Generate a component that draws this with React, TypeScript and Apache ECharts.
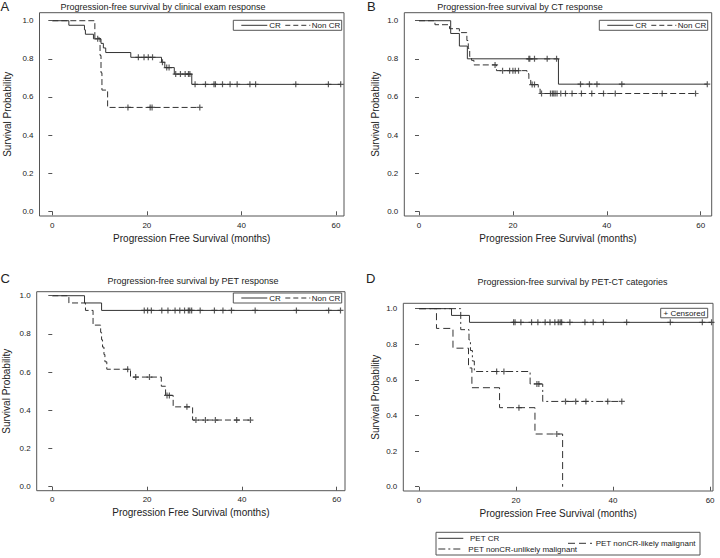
import React, { useEffect, useRef } from "react";
import * as echarts from "echarts";

const FONT = "'Liberation Sans', Arial, Helvetica, sans-serif";
const INK = "#333";

const xTicks = [0, 20, 40, 60];
const yTicks = [0, 0.2, 0.4, 0.6, 0.8, 1.0];

// ---- Panel A: clinical exam response ----
const aCrSteps: [number, number][] = [
  [3.5, 0.976], [6.8, 0.952], [7.0, 0.929], [8.7, 0.905], [10.3, 0.881], [10.8, 0.857],
  [11.3, 0.833], [16.6, 0.808], [23.1, 0.782], [23.8, 0.754], [25.8, 0.72], [29.5, 0.666],
];
const aCrCensor = [9.6, 18.2, 19.4, 20.3, 21.2, 23.3, 24.2, 24.7, 26.1, 27.1, 28.1, 28.8, 29.1,
  30.2, 32.4, 34.2, 34.5, 36.0, 37.6, 39.1, 41.8, 43.0, 51.5, 58.4, 61.0];
const aNonSteps: [number, number][] = [
  [9.0, 0.909], [10.1, 0.818], [10.3, 0.727], [10.5, 0.636], [11.7, 0.545],
];
const aNonCensor = [16.0, 20.7, 21.1, 31.2];

// ---- Panel B: CT response ----
const bCrSteps: [number, number][] = [[6.75, 0.933], [8.6, 0.867], [10.3, 0.8], [29.7, 0.667]];
const bCrCensor = [23.4, 23.6, 24.6, 27.3, 29.3, 34.4, 36.3, 37.9, 43.2, 61.4];
const bNonSteps: [number, number][] = [
  [3.4, 0.979], [6.5, 0.958], [8.6, 0.9375], [10.2, 0.896], [10.5, 0.854], [10.8, 0.812],
  [11.2, 0.792], [11.7, 0.768], [16.5, 0.738], [23.0, 0.722], [23.4, 0.695], [23.8, 0.665],
  [25.4, 0.642], [25.8, 0.618],
];
const bNonCensor = [16.2, 17.8, 19.3, 20.0, 20.5, 21.2, 24.1, 24.6, 26.1, 28.0, 28.4, 28.7, 29.0,
  29.4, 30.2, 31.2, 32.6, 34.6, 36.8, 39.3, 41.8, 51.8, 58.9];

// ---- Panel C: PET response ----
const cCrSteps: [number, number][] = [[6.8, 0.962], [10.4, 0.923]];
const cCrCensor = [19.4, 20.1, 20.9, 23.1, 24.4, 25.9, 26.9, 27.9, 28.7, 29.0, 29.4, 31.2, 34.2,
  36.0, 37.8, 42.8, 51.5, 58.3, 60.8];
const cNonSteps: [number, number][] = [
  [3.5, 0.962], [7.0, 0.923], [8.6, 0.846], [10.2, 0.808], [10.4, 0.769], [10.6, 0.731],
  [10.9, 0.692], [11.1, 0.654], [11.5, 0.615], [16.5, 0.574], [23.0, 0.526], [23.9, 0.478],
  [25.5, 0.418], [29.6, 0.349],
];
const cNonCensor = [15.9, 17.6, 20.5, 24.2, 24.7, 28.4, 30.3, 32.3, 34.4, 38.9, 41.8];

// ---- Panel D: PET-CT categories ----
const dCrSteps: [number, number][] = [[6.7, 0.962], [10.4, 0.923]];
const dCrCensor = [19.5, 19.8, 21.0, 23.2, 24.5, 26.0, 27.0, 28.0, 28.7, 29.1, 29.4, 31.1, 34.2,
  35.9, 38.0, 42.8, 51.8, 58.4, 60.3];
const dUnlikelySteps: [number, number][] = [
  [8.6, 0.882], [10.3, 0.824], [10.6, 0.765], [11.0, 0.706], [11.4, 0.647], [22.9, 0.577],
  [25.5, 0.479],
];
const dUnlikelyCensor = [16.0, 17.5, 24.3, 24.7, 30.2, 32.3, 34.4, 38.9, 41.8];
const dLikelySteps: [number, number][] = [
  [3.6, 0.889], [7.0, 0.778], [10.2, 0.667], [10.9, 0.556], [16.6, 0.444], [23.9, 0.296], [29.6, 0],
];
const dLikelyCensor = [20.6, 28.4];

const titles = [
  "Progression-free survival by clinical exam response",
  "Progression-free survival by CT response",
  "Progression-free survival by PET response",
  "Progression-free survival by PET-CT categories",
];
const panelLetters = ["A", "B", "C", "D"];
const xTitle = "Progression Free Survival (months)";
const yTitle = "Survival Probability";

const PLUS = "path://M4,0H6V4H10V6H6V10H4V6H0V4H4Z";

function levelAt(steps: [number, number][], t: number) {
  let v = 1;
  for (const [x, y] of steps) if (x <= t) v = y;
  return v;
}
function curveData(steps: [number, number][], censor: number[]) {
  const d: number[][] = [[0, 1], ...steps.map((s) => [s[0], s[1]])];
  const last = d[d.length - 1];
  const end = censor.length ? Math.max(...censor) : last[0];
  if (end > last[0]) d.push([end, last[1]]);
  return d;
}

type Curve = { name: string; steps: [number, number][]; censor: number[]; dash: any };
type Panel = {
  grid: { left: number; top: number; width: number; height: number };
  x: [number, number];
  y: [number, number];
  gapX: number;
  gapY: number;
  curves: Curve[];
};

const panels: Panel[] = [
  {
    grid: { left: 39.5, top: 12.7, width: 304.5, height: 203.3 },
    x: [-2.71, 61.7], y: [-0.0247, 1.042], gapX: 17, gapY: 27,
    curves: [
      { name: "A CR", steps: aCrSteps, censor: aCrCensor, dash: "solid" },
      { name: "A Non CR", steps: aNonSteps, censor: aNonCensor, dash: [6, 3] },
    ],
  },
  {
    grid: { left: 404.3, top: 12.7, width: 307.4, height: 203.3 },
    x: [-3.13, 62.34], y: [-0.0247, 1.042], gapX: 17, gapY: 24,
    curves: [
      { name: "B CR", steps: bCrSteps, censor: bCrCensor, dash: "solid" },
      { name: "B Non CR", steps: bNonSteps, censor: bNonCensor, dash: [6, 3] },
    ],
  },
  {
    grid: { left: 36.7, top: 291.7, width: 308.3, height: 199 },
    x: [-3.29, 61.75], y: [-0.021, 1.021], gapX: 17, gapY: 25,
    curves: [
      { name: "C CR", steps: cCrSteps, censor: cCrCensor, dash: "solid" },
      { name: "C Non CR", steps: cNonSteps, censor: cNonCensor, dash: [6, 3] },
    ],
  },
  {
    grid: { left: 403.3, top: 303.3, width: 309.7, height: 187.7 },
    x: [-3.24, 60.6], y: [-0.024, 1.03], gapX: 17, gapY: 23,
    curves: [
      { name: "PET CR", steps: dCrSteps, censor: dCrCensor, dash: "solid" },
      { name: "PET nonCR-unlikely malignant", steps: dUnlikelySteps, censor: dUnlikelyCensor, dash: [7, 3, 2, 3] },
      { name: "PET nonCR-likely malignant", steps: dLikelySteps, censor: dLikelyCensor, dash: [7, 4] },
    ],
  },
];

function txt(text: string, x: number, y: number, size: number, align = "left", vAlign = "middle", weight = "normal") {
  return {
    type: "text",
    x,
    y,
    silent: true,
    style: {
      text,
      fill: "#222",
      fontSize: size,
      fontFamily: FONT,
      fontWeight: weight,
      align,
      verticalAlign: vAlign,
      textAlign: align,
      textVerticalAlign: vAlign,
    },
  };
}
function seg(x1: number, y1: number, x2: number, y2: number, dash?: number[]) {
  return {
    type: "line",
    silent: true,
    shape: { x1, y1, x2, y2 },
    style: { stroke: INK, lineWidth: 1, lineDash: dash || null },
  };
}
function box(x: number, y: number, w: number, h: number) {
  return {
    type: "rect",
    silent: true,
    shape: { x, y, width: w, height: h },
    style: { fill: "#fff", stroke: "#555", lineWidth: 1 },
  };
}

function twoLegend(left: number, top: number) {
  const cy = top + 5;
  return [
    box(left, top, 108.4, 10),
    seg(left + 8, cy, left + 34, cy),
    txt("CR", left + 36, cy, 8),
    seg(left + 52, cy, left + 77, cy, [5, 3]),
    txt("Non CR", left + 78.5, cy, 8),
  ];
}

export default function App() {
  const ref = useRef<HTMLDivElement>(null);
  useEffect(() => {
    if (!ref.current) return;
    const chart = echarts.init(ref.current, undefined, { renderer: "svg" });

    const grids: any[] = [];
    const xAxes: any[] = [];
    const yAxes: any[] = [];
    const series: any[] = [];

    panels.forEach((p, i) => {
      grids.push({ ...p.grid, show: true, borderColor: "#555", borderWidth: 1, backgroundColor: "transparent" });
      xAxes.push({
        type: "value",
        gridIndex: i,
        min: p.x[0],
        max: p.x[1],
        name: xTitle,
        nameLocation: "middle",
        nameGap: p.gapX,
        nameTextStyle: { fontFamily: FONT, fontSize: 10, color: "#222" },
        axisLine: { show: false },
        axisTick: { show: true, inside: false, length: 4, customValues: xTicks, lineStyle: { color: "#555" } },
        axisLabel: { customValues: xTicks, fontFamily: FONT, fontSize: 8, color: "#222", margin: 5 },
        splitLine: { show: false },
      });
      yAxes.push({
        type: "value",
        gridIndex: i,
        min: p.y[0],
        max: p.y[1],
        name: yTitle,
        nameLocation: "middle",
        nameGap: p.gapY,
        nameTextStyle: { fontFamily: FONT, fontSize: 10, color: "#222" },
        axisLine: { show: false },
        axisTick: { show: true, inside: false, length: 4, customValues: yTicks, lineStyle: { color: "#555" } },
        axisLabel: {
          customValues: yTicks,
          fontFamily: FONT,
          fontSize: 8,
          color: "#222",
          margin: 6,
          formatter: (v: number) => v.toFixed(1),
        },
        splitLine: { show: false },
      });
      p.curves.forEach((c) => {
        series.push({
          name: c.name,
          type: "line",
          xAxisIndex: i,
          yAxisIndex: i,
          step: "end",
          showSymbol: false,
          symbol: "none",
          clip: false,
          lineStyle: { color: INK, width: 1, type: c.dash },
          data: curveData(c.steps, c.censor),
          z: 2,
        });
        series.push({
          name: c.name + " censored",
          type: "scatter",
          xAxisIndex: i,
          yAxisIndex: i,
          symbol: PLUS,
          symbolSize: 6,
          clip: false,
          itemStyle: { color: INK },
          data: c.censor.map((t) => [t, levelAt(c.steps, t)]),
          z: 3,
        });
      });
    });

    const graphic: any[] = [
      txt(panelLetters[0], 0.5, 6.5, 13),
      txt(panelLetters[1], 367, 6.5, 13),
      txt(panelLetters[2], 0.5, 278, 13),
      txt(panelLetters[3], 366, 278, 13),
      txt(titles[0], 163, 7, 9, "center"),
      txt(titles[1], 520, 7, 9, "center"),
      txt(titles[2], 193, 281.3, 9, "center"),
      txt(titles[3], 572.5, 282, 9, "center"),
      ...twoLegend(233.3, 20.3),
      ...twoLegend(599.3, 20.3),
      ...twoLegend(233.3, 293),
      box(660.7, 308.3, 47, 9.5),
      txt("+ Censored", 663.5, 313, 8),
      box(436, 532.3, 264, 22.7),
      seg(438.3, 538.3, 463.3, 538.3),
      txt("PET CR", 470, 538.3, 8),
      seg(438.3, 549, 463.3, 549, [7, 3, 2, 3]),
      txt("PET nonCR-unlikely malignant", 468.3, 549.3, 8),
      seg(568, 543.3, 592, 543.3, [7, 4]),
      txt("PET nonCR-likely malignant", 595.7, 543.3, 8),
    ];

    chart.setOption({
      animation: false,
      backgroundColor: "#fff",
      textStyle: { fontFamily: FONT },
      grid: grids,
      xAxis: xAxes,
      yAxis: yAxes,
      series,
      graphic,
    });
    return () => chart.dispose();
  }, []);

  return (
    <div
      ref={ref}
      style={{ position: "fixed", left: 0, top: 0, width: 720, height: 558, background: "#fff" }}
    />
  );
}
